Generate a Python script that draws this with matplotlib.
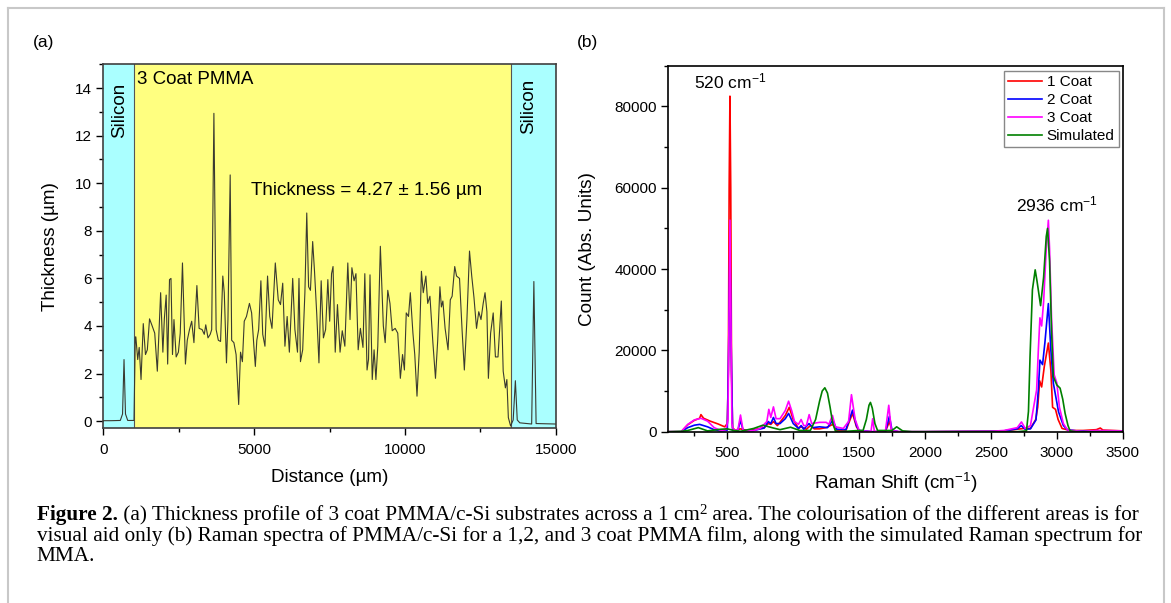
import matplotlib
matplotlib.use("Agg")
import matplotlib.pyplot as plt
from matplotlib.lines import Line2D
from matplotlib.ticker import MultipleLocator

plt.rcParams['font.family'] = ['Liberation Sans', 'DejaVu Sans']
plt.rcParams['mathtext.fontset'] = 'custom'
plt.rcParams['mathtext.rm'] = 'Liberation Sans'
plt.rcParams['mathtext.it'] = 'Liberation Sans:italic'
plt.rcParams['mathtext.bf'] = 'Liberation Sans:bold'

# ---------------- data: (a) thickness profile ----------------
distance_um = [0, 258, 564, 638, 687, 736, 810, 1018, 1060,
    1079, 1141, 1190, 1251, 1325, 1398, 1460, 1533, 1607, 1705, 1791, 1901, 1975, 2024, 2085, 2134,
    2195, 2244, 2294, 2343, 2416, 2490, 2551, 2625, 2723, 2784, 2858, 2931, 3005, 3103, 3177, 3275,
    3348, 3397, 3471, 3545, 3594, 3667, 3741, 3814, 3888, 3962, 4011, 4084, 4133, 4207, 4256, 4330,
    4403, 4489, 4550, 4612, 4673, 4747, 4845, 4918, 4992, 5041, 5090, 5151, 5225, 5286, 5360, 5446,
    5519, 5593, 5703, 5801, 5875, 5949, 6022, 6096, 6169, 6280, 6353, 6439, 6488, 6537, 6611, 6684,
    6746, 6807, 6868, 6942, 7003, 7077, 7150, 7224, 7298, 7371, 7445, 7506, 7568, 7617, 7690, 7764,
    7850, 7923, 8009, 8107, 8181, 8242, 8316, 8377, 8451, 8524, 8610, 8671, 8745, 8794, 8843, 8917,
    8978, 9039, 9101, 9186, 9285, 9346, 9432, 9505, 9579, 9677, 9763, 9849, 9922, 9984, 10045, 10119,
    10180, 10266, 10327, 10401, 10474, 10548, 10609, 10695, 10756, 10830, 10928, 11014, 11088, 11161,
    11210, 11259, 11333, 11431, 11505, 11566, 11652, 11713, 11811, 11897, 11971, 12056, 12142, 12216,
    12290, 12375, 12449, 12523, 12596, 12657, 12719, 12768, 12842, 12928, 13001, 13087, 13197, 13259,
    13332, 13381, 13430, 13504, 13590, 13663, 13725, 13810, 14203, 14276, 14350, 15000]
thickness_um = [0.02, 0.02, 0.03, 0.3, 2.59, 0.3, 0.03, 0.03, 3.54,
    3.54, 2.59, 3.1, 1.75, 4.1, 2.8, 3.0, 4.3, 4.05, 3.7, 2.1, 5.4, 2.9, 4.3, 5.3, 2.4,
    5.95, 6.0, 2.8, 4.27, 2.7, 2.9, 3.7, 6.65, 2.4, 3.4, 3.85, 4.2, 3.3, 5.7, 3.9, 3.85,
    3.65, 4.05, 3.5, 3.65, 3.85, 12.94, 3.85, 3.4, 3.35, 6.1, 5.4, 2.45, 4.27, 10.35, 3.4, 3.3,
    2.8, 0.7, 2.9, 2.5, 4.2, 4.4, 4.95, 4.55, 3.15, 2.3, 3.4, 3.85, 5.9, 3.65, 3.15, 6.1,
    4.4, 3.9, 6.65, 5.1, 4.9, 5.8, 3.15, 4.4, 2.9, 6.0, 3.85, 2.9, 6.0, 2.5, 3.0, 5.4,
    8.75, 5.65, 5.5, 7.55, 6.3, 4.5, 2.45, 5.9, 3.5, 3.85, 5.95, 4.2, 6.2, 6.5, 2.9, 4.9,
    2.9, 3.8, 3.15, 6.65, 4.27, 6.45, 5.9, 6.2, 3.0, 3.9, 3.1, 6.2, 2.15, 2.6, 6.15, 1.75,
    3.0, 1.75, 3.15, 7.35, 4.0, 3.3, 5.5, 4.95, 3.8, 3.9, 3.7, 1.8, 2.8, 2.15, 4.55, 4.4,
    5.4, 3.7, 2.8, 1.05, 2.9, 6.3, 5.4, 6.1, 4.95, 5.25, 3.3, 1.8, 3.4, 5.65,
    4.8, 5.05, 3.9, 3.0, 5.1, 5.25, 6.5, 6.1, 6.0, 3.8, 2.15, 4.27, 7.15, 6.1,
    5.2, 3.9, 4.6, 4.27, 4.95, 5.4, 4.6, 1.8, 3.7, 4.55, 2.7, 2.7, 5.05, 2.1,
    1.4, 1.75, 0.15, -0.2, 0.05, 1.7, 0.05, -0.07, -0.12, 5.87, -0.1, -0.12]
region_edges_um = [0, 1025, 13530, 15000]
region_labels = ['Silicon', '3 Coat PMMA', 'Silicon']

# ---------------- data: (b) Raman spectra ----------------
coat1_x = [60, 150, 200, 250, 290, 300, 320, 370, 430, 480, 500, 508, 514, 520, 526, 532, 540, 560,
           600, 650, 700, 780, 810, 830, 850, 880, 940, 970, 1000, 1040, 1060, 1100, 1130, 1160, 1200,
           1250, 1300, 1330, 1400, 1450, 1480, 1500, 1600, 1700, 1730, 1750, 1800, 2000, 2500, 2600,
           2700, 2750, 2800, 2840, 2855, 2870, 2885, 2905, 2936, 2955, 2968, 2990, 3010, 3040, 3100,
           3200, 3300, 3330, 3350, 3500]
coat1_y = [0, 0, 1700, 2800, 3300, 4200, 3300, 2600, 1900, 1200, 2000, 15000, 60000, 82500, 60000,
           15000, 900, 400, 700, 300, 500, 1000, 2000, 1800, 2500, 1500, 4000, 6000, 3000, 800, 1200,
           600, 1500, 700, 700, 1000, 1800, 400, 300, 4500, 1200, 200, 0, 100, 2500, 200, 0, 0, 100,
           200, 600, 800, 800, 3000, 6000, 12500, 11000, 16000, 21800, 15000, 6000, 5500, 3000, 800,
           300, 300, 500, 900, 400, 200]

coat2_x = [60, 150, 200, 250, 290, 350, 400, 450, 500, 510, 520, 530, 540, 580, 600, 620, 700, 780,
           810, 830, 850, 870, 900, 940, 965, 1000, 1040, 1060, 1080, 1120, 1150, 1200, 1260, 1300,
           1330, 1400, 1450, 1480, 1500, 1600, 1700, 1730, 1750, 1800, 2000, 2500, 2600, 2700, 2730,
           2760, 2800, 2842, 2860, 2872, 2892, 2910, 2936, 2955, 2974, 3013, 3050, 3080, 3150, 3300,
           3500]
coat2_y = [0, 0, 1000, 1600, 1800, 1200, 500, 200, 400, 20000, 45000, 20000, 300, 300, 2800, 300,
           300, 900, 2500, 2000, 3500, 2000, 2000, 3200, 4500, 2000, 800, 1500, 600, 2000, 1000, 1200,
           1000, 2800, 600, 500, 5300, 1500, 300, 0, 100, 3800, 300, 0, 0, 100, 200, 700, 1500, 600,
           700, 2900, 10300, 17600, 16500, 22000, 31500, 20000, 11900, 4900, 1500, 500, 200, 200, 200]

coat3_x = [60, 150, 200, 250, 300, 350, 400, 450, 490, 505, 512, 520, 528, 535, 545, 580, 600, 620,
           650, 700, 750, 800, 815, 830, 850, 870, 900, 940, 965, 990, 1010, 1040, 1060, 1080, 1100,
           1121, 1140, 1200, 1250, 1270, 1298, 1320, 1380, 1420, 1442, 1470, 1500, 1550, 1590, 1603,
           1616, 1700, 1725, 1745, 1800, 2000, 2500, 2600, 2700, 2732, 2760, 2800, 2847, 2860, 2872,
           2885, 2900, 2920, 2936, 2945, 2960, 2980, 3000, 3020, 3050, 3080, 3100, 3200, 3300, 3500]
coat3_y = [0, 0, 1800, 2900, 3300, 2600, 1000, 300, 500, 3000, 25000, 52000, 25000, 2000, 500, 400,
           4100, 300, 200, 300, 800, 2500, 5500, 3500, 6100, 3200, 3200, 5200, 7500, 5000, 2500, 1800,
           3000, 1500, 1500, 4200, 2000, 2300, 2300, 1800, 4000, 1200, 800, 2500, 9100, 3000, 300,
           100, 0, 3200, 0, 200, 6500, 300, 0, 0, 100, 300, 1000, 2400, 800, 1500, 10300, 20100, 28000,
           26000, 32000, 45000, 52000, 45000, 28000, 14000, 12000, 6000, 2000, 500, 300, 100, 300, 200]

sim_x = [60, 150, 200, 280, 350, 450, 500, 550, 600, 700, 770, 850, 900, 980, 1050, 1130, 1170, 1200,
         1220, 1240, 1260, 1280, 1300, 1320, 1350, 1500, 1530, 1555, 1575, 1586, 1600, 1620, 1640,
         1750, 1785, 1830, 1900, 2700, 2770, 2785, 2797, 2815, 2836, 2850, 2877, 2900, 2920, 2930,
         2945, 2960, 2974, 3000, 3025, 3045, 3063, 3085, 3101, 3150, 3500]
sim_y = [0, 100, 300, 1000, 200, 600, 700, 300, 100, 800, 1600, 900, 500, 1100, 300, 300, 3000, 7500,
         10000, 10800, 9500, 6000, 2000, 200, 0, 300, 300, 3000, 6500, 7200, 5800, 2000, 300,
         300, 1200, 200, 0, 0, 200, 5000, 18500, 34900, 39800, 37000, 31000, 38000, 48000, 50000,
         42000, 25000, 13500, 11500, 10700, 8000, 4500, 1500, 200, 0, 0]

series_labels = ['1 Coat', '2 Coat', '3 Coat', 'Simulated']
series_colors = ['#ff0000', '#0000ff', '#ff00ff', '#008000']
peak_labels = [(520, 86200, '520 cm$^{-1}$'), (3000, 55800, '2936 cm$^{-1}$')]

# ---------------- figure ----------------
W, H = 1171, 603
fig = plt.figure(figsize=(W / 100, H / 100), dpi=100)
fig.patch.set_facecolor('white')

def fx(px):
    return px / W

def fy(py):
    return 1 - py / H

axA = fig.add_axes([fx(103.3), fy(428.3), fx(555.7 - 103.3), (428.3 - 64.3) / H])
axB = fig.add_axes([fx(668), fy(431.7), fx(1122.7 - 668), (431.7 - 65.7) / H])

tick_fs = 11
label_fs = 13.6
annot_fs = 13.5

# panel (a)
span_colors = ['#aaffff', '#ffff80', '#aaffff']
for i in range(3):
    axA.axvspan(region_edges_um[i], region_edges_um[i + 1], color=span_colors[i], zorder=0, lw=0)
for e in region_edges_um[1:3]:
    axA.axvline(e, color='#555555', lw=0.8, zorder=1)
axA.plot(distance_um, thickness_um, color='#3a3a30', lw=0.8, zorder=3)
axA.set_xlim(0, 15000)
axA.set_ylim(-0.3, 15)
axA.xaxis.set_major_locator(MultipleLocator(5000))
axA.xaxis.set_minor_locator(MultipleLocator(2500))
axA.yaxis.set_major_locator(MultipleLocator(2))
axA.yaxis.set_minor_locator(MultipleLocator(1))
axA.set_xlabel('Distance (µm)', fontsize=label_fs, labelpad=9)
axA.set_ylabel('Thickness (µm)', fontsize=label_fs, labelpad=12)
for s in axA.spines.values():
    s.set_color('#404040')
    s.set_linewidth(1.2)
axA.text(537, 13.07, region_labels[0], rotation=90, fontsize=annot_fs, ha='center', va='center')
axA.text(14090, 13.25, region_labels[2], rotation=90, fontsize=annot_fs, ha='center', va='center')
axA.text(1118, 14.38, region_labels[1], fontsize=annot_fs, ha='left', va='center')
axA.text(8736, 9.71, 'Thickness = 4.27 ± 1.56 µm', fontsize=annot_fs, ha='center', va='center')

# panel (b)
for xs, ys, lab, col in zip([coat1_x, coat2_x, coat3_x, sim_x], [coat1_y, coat2_y, coat3_y, sim_y],
                            series_labels, series_colors):
    axB.plot(xs, ys, color=col, lw=1.2, label=lab)
axB.set_xlim(50, 3500)
axB.set_ylim(0, 90000)
axB.xaxis.set_major_locator(MultipleLocator(500))
axB.xaxis.set_minor_locator(MultipleLocator(250))
axB.yaxis.set_major_locator(MultipleLocator(20000))
axB.yaxis.set_minor_locator(MultipleLocator(10000))
axB.set_xlabel('Raman Shift (cm$^{-1}$)', fontsize=label_fs, labelpad=8)
axB.set_ylabel('Count (Abs. Units)', fontsize=label_fs, labelpad=13)
for s in axB.spines.values():
    s.set_color('black')
    s.set_linewidth(1.2)
for px_, py_, t in peak_labels:
    axB.text(px_, py_, t, fontsize=12.5, ha='center', va='center')
leg = axB.legend(loc='upper right', bbox_to_anchor=(0.992, 0.986), borderaxespad=0,
                 fontsize=11, handlelength=2.2, handletextpad=0.3, labelspacing=0.25,
                 borderpad=0.3, fancybox=False, framealpha=1, edgecolor='#888888')
leg.get_frame().set_linewidth(1.0)

for ax in (axA, axB):
    ax.tick_params(which='both', direction='out', top=False, right=False, labelsize=tick_fs,
                   width=1.0, pad=3)
    ax.tick_params(axis='x', which='both', pad=5.5)
    ax.tick_params(which='major', length=5)
    ax.tick_params(which='minor', length=3)

fig.text(fx(44), fy(43), '(a)', fontsize=12.5, ha='center', va='center')
fig.text(fx(588), fy(43), '(b)', fontsize=12.5, ha='center', va='center')

# outer frame (left, top, right)
for (x1, y1, x2, y2) in [(8, H + 5, 8, 8), (8, 8, 1164, 8), (1164, 8, 1164, H + 5)]:
    fig.add_artist(Line2D([fx(x1), fx(x2)], [fy(y1), fy(y2)], color='#c8c8c8', lw=1.5,
                          transform=fig.transFigure))

# caption
serif = ['Liberation Serif', 'DejaVu Serif']
renderer = fig.canvas.get_renderer()
line2 = 'visual aid only (b) Raman spectra of PMMA/c-Si for a 1,2, and 3 coat PMMA film, along with the simulated Raman spectrum for'
probe = fig.text(0, 0, line2, fontsize=12, family=serif)
w = probe.get_window_extent(renderer).width
probe.remove()
cap_fs = 12 * (1141 - 36.7) / w

x0 = fx(36.7)
parts = [('Figure 2.', 'bold', cap_fs, 0),
         (' (a) Thickness profile of 3 coat PMMA/c-Si substrates across a 1 cm', 'normal', cap_fs, 0),
         ('2', 'normal', cap_fs * 0.7, 6),
         (' area. The colourisation of the different areas is for', 'normal', cap_fs, 0)]
cx = 36.7
for txt, wt, fs, dy in parts:
    t = fig.text(fx(cx), fy(520 - dy), txt, fontsize=fs, family=serif, weight=wt, va='baseline', ha='left')
    cx += t.get_window_extent(renderer).width
fig.text(x0, fy(540.7), line2, fontsize=cap_fs, family=serif, va='baseline', ha='left')
fig.text(x0, fy(561), 'MMA.', fontsize=cap_fs, family=serif, va='baseline', ha='left')

fig.savefig('out.png', dpi=100)
